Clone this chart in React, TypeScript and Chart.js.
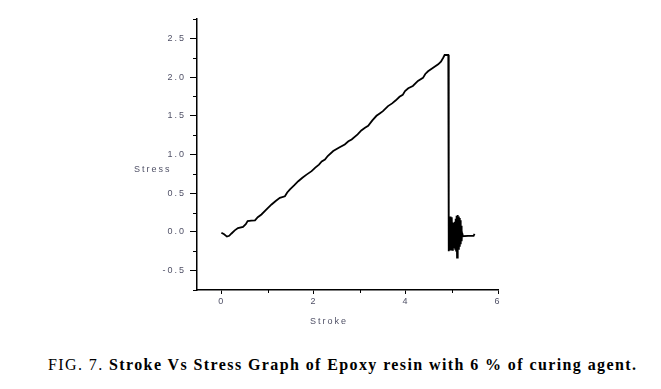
import React, { useEffect, useRef } from "react";
import { Chart, registerables } from "chart.js";

Chart.register(...registerables);

// Stroke (x) and stress (y) readings taken from the reference curve
const strokes: number[] = [
  -0.01, 0.05, 0.11, 0.16, 0.21, 0.28, 0.35, 0.46, 0.52, 0.56, 0.64, 0.72, 0.78, 0.86, 0.97,
  1.08, 1.17, 1.26, 1.37, 1.42, 1.48, 1.57, 1.66, 1.75, 1.84, 1.95, 2.03, 2.11, 2.17, 2.24,
  2.30, 2.42, 2.55, 2.67, 2.75, 2.82, 2.95, 3.03, 3.11, 3.18, 3.27, 3.36, 3.43, 3.50, 3.61,
  3.70, 3.78, 3.86, 3.93, 3.98, 4.05, 4.15, 4.26, 4.37, 4.42, 4.48, 4.59, 4.70, 4.76, 4.81,
  4.84, 4.92, 4.93,
  4.94, 4.95, 4.96, 4.97, 4.98, 4.99, 5.00, 5.01, 5.02, 5.03, 5.04, 5.05, 5.06, 5.07, 5.08,
  5.09, 5.10, 5.11, 5.12, 5.13, 5.14, 5.15, 5.16, 5.17, 5.18, 5.19, 5.20, 5.21, 5.22, 5.23,
  5.35, 5.47, 5.49,
];
const stresses: number[] = [
  -0.01, -0.03, -0.06, -0.05, -0.02, 0.02, 0.05, 0.065, 0.10, 0.14, 0.145, 0.15, 0.19, 0.225, 0.29,
  0.355, 0.40, 0.44, 0.46, 0.51, 0.55, 0.60, 0.655, 0.70, 0.74, 0.785, 0.83, 0.87, 0.91, 0.935,
  0.98, 1.045, 1.09, 1.13, 1.17, 1.195, 1.26, 1.31, 1.345, 1.37, 1.44, 1.50, 1.53, 1.56, 1.625,
  1.66, 1.70, 1.745, 1.77, 1.82, 1.855, 1.885, 1.95, 1.99, 2.04, 2.075, 2.12, 2.165, 2.20, 2.25,
  2.285, 2.285, -0.25,
  0.18, -0.22, 0.20, -0.24, 0.16, -0.21, 0.19, -0.23, 0.12, -0.20, 0.10, -0.18, 0.13, -0.22, 0.17,
  -0.24, 0.21, -0.33, 0.22, -0.21, 0.20, -0.23, 0.18, -0.19, 0.15, -0.16, 0.08, -0.12, -0.02, -0.055,
  -0.05, -0.05, -0.025,
];

const xMajorTicks: number[] = [0, 2, 4, 6];
const xMinorTicks: number[] = [1, 3, 5];
const yMajorTicks: number[] = [-0.5, 0, 0.5, 1.0, 1.5, 2.0, 2.5];
const yMinorTicks: number[] = [-0.25, 0.25, 0.75, 1.25, 1.75, 2.25, 2.75];

const xTitle = "Stroke";
const yTitle = "Stress";

const LABEL_FONT = "9px 'Liberation Sans', Arial, sans-serif";
const LABEL_COLOR = "#4f5066";

const spacingPlugin = {
  id: "spacing",
  beforeUpdate(chart: any) {
    chart.ctx.letterSpacing = "2px";
  },
  beforeDraw(chart: any) {
    chart.ctx.letterSpacing = "2px";
  },
};

const extrasPlugin = {
  id: "extras",
  afterDraw(chart: any) {
    const ctx = chart.ctx;
    const xs = chart.scales.x;
    const ys = chart.scales.y;
    const area = chart.chartArea;
    ctx.save();
    ctx.strokeStyle = "#000";
    ctx.lineWidth = 1;
    ctx.beginPath();
    for (const v of yMinorTicks) {
      const py = Math.round(ys.getPixelForValue(v)) + 0.5;
      ctx.moveTo(area.left - 4, py);
      ctx.lineTo(area.left, py);
    }
    for (const v of xMinorTicks) {
      const px = Math.round(xs.getPixelForValue(v)) + 0.5;
      ctx.moveTo(px, area.bottom);
      ctx.lineTo(px, area.bottom + 3);
    }
    ctx.moveTo(area.left - 4, area.bottom + 0.5);
    ctx.lineTo(area.left, area.bottom + 0.5);
    ctx.stroke();

    ctx.letterSpacing = "2px";
    ctx.font = LABEL_FONT;
    ctx.fillStyle = LABEL_COLOR;
    ctx.textBaseline = "middle";
    ctx.textAlign = "left";
    ctx.fillText(yTitle, area.left - 63, area.top + 151);
    ctx.textAlign = "center";
    ctx.fillText(xTitle, area.left + 132, area.bottom + 32);
    ctx.restore();
  },
};

export default function App() {
  const canvasRef = useRef<HTMLCanvasElement | null>(null);

  useEffect(() => {
    const canvas = canvasRef.current;
    if (!canvas) return;
    const data = strokes.map((s, i) => ({ x: s, y: stresses[i] }));
    const chart = new Chart(canvas, {
      type: "line",
      data: {
        datasets: [
          {
            data,
            borderColor: "#000",
            borderWidth: 1.8,
            pointRadius: 0,
            tension: 0,
            fill: false,
          },
        ],
      },
      plugins: [spacingPlugin, extrasPlugin],
      options: {
        responsive: false,
        animation: false,
        devicePixelRatio: 1,
        layout: { padding: { top: 19, right: 163, bottom: 0, left: 0 } },
        plugins: {
          legend: { display: false },
          tooltip: { enabled: false },
          title: { display: false },
        },
        scales: {
          x: {
            type: "linear",
            min: -0.54,
            max: 6,
            afterBuildTicks: (scale: any) => {
              scale.ticks = xMajorTicks.map((v) => ({ value: v }));
            },
            afterFit: (scale: any) => {
              scale.height = 50;
            },
            grid: {
              display: true,
              drawOnChartArea: false,
              drawTicks: true,
              tickLength: 4,
              color: "#000",
              lineWidth: 1,
            },
            border: { display: true, color: "#000", width: 1.5 },
            ticks: {
              font: { family: "'Liberation Sans', Arial, sans-serif", size: 9 },
              color: LABEL_COLOR,
              padding: 2,
              maxRotation: 0,
              callback: (v: any) => String(v),
            },
          },
          y: {
            type: "linear",
            min: -0.75,
            max: 2.75,
            afterBuildTicks: (scale: any) => {
              scale.ticks = yMajorTicks.map((v) => ({ value: v }));
            },
            afterFit: (scale: any) => {
              scale.width = 197;
            },
            grid: {
              display: true,
              drawOnChartArea: false,
              drawTicks: true,
              tickLength: 7,
              color: "#000",
              lineWidth: 1,
            },
            border: { display: true, color: "#000", width: 1.5 },
            ticks: {
              font: { family: "'Liberation Sans', Arial, sans-serif", size: 9 },
              color: LABEL_COLOR,
              padding: 4,
              callback: (v: any) => Number(v).toFixed(1),
            },
          },
        },
      },
    });
    return () => chart.destroy();
  }, []);

  return (
    <div style={{ position: "absolute", left: 0, top: 0, width: 661, height: 389, background: "#fff" }}>
      <canvas
        ref={canvasRef}
        width={661}
        height={340}
        style={{ position: "absolute", left: 0, top: 0, width: 661, height: 340 }}
      />
      <div
        style={{
          position: "absolute",
          left: 48,
          top: 356,
          whiteSpace: "nowrap",
          fontFamily: "'Liberation Serif', 'Times New Roman', serif",
          fontSize: 16,
          lineHeight: "18px",
          letterSpacing: "1.4px",
          color: "#000",
        }}
      >
        FIG. 7. <b>Stroke Vs Stress Graph of Epoxy resin with 6 % of curing agent.</b>
      </div>
    </div>
  );
}
